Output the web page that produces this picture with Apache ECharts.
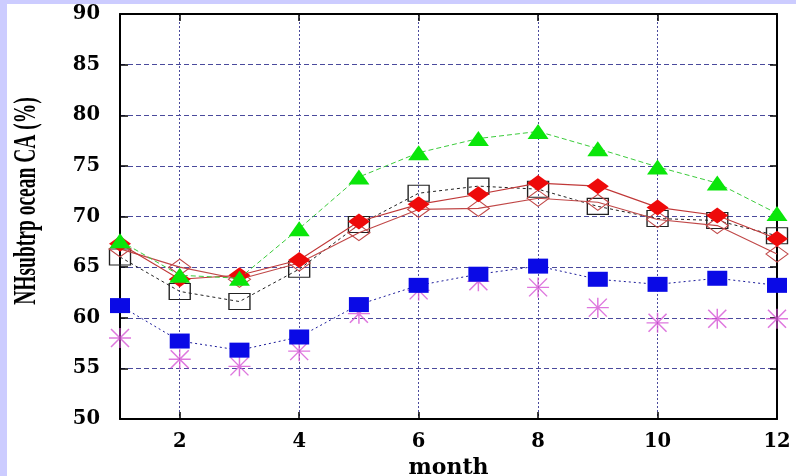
<!DOCTYPE html>
<html>
<head>
<meta charset="utf-8">
<script src="https://cdn.jsdelivr.net/npm/echarts@6/dist/echarts.min.js"></script>
<style>
  html, body { margin: 0; padding: 0; width: 796px; height: 476px; background: #ccccff; overflow: hidden; }
  #chart { position: absolute; left: 7px; top: 4px; width: 789px; height: 472px; background: #ffffff; }
</style>
</head>
<body>
<div id="chart"></div>
<script>
// Monthly NH subtropical ocean cloud amount (%), six data sets
const months = [1, 2, 3, 4, 5, 6, 7, 8, 9, 10, 11, 12];
const monthTicks = [2, 4, 6, 8, 10, 12];
const greenTriangles = [67.6, 64.2, 63.9, 68.8, 73.9, 76.3, 77.7, 78.4, 76.7, 74.9, 73.3, 70.3];
const redDiamonds = [67.3, 63.8, 64.2, 65.7, 69.5, 71.2, 72.2, 73.3, 73.0, 70.9, 70.1, 67.8];
const openDiamonds = [66.8, 65.0, 63.8, 65.4, 68.4, 70.7, 70.8, 71.8, 71.4, 69.7, 69.1, 66.3];
const openSquares = [66.0, 62.6, 61.6, 64.8, 69.2, 72.3, 73.0, 72.7, 71.0, 69.8, 69.6, 68.1];
const blueSquares = [61.2, 57.7, 56.8, 58.1, 61.3, 63.2, 64.3, 65.1, 63.8, 63.3, 63.9, 63.2];
const asterisks = [58.0, 55.9, 55.2, 56.7, 60.4, 62.7, 63.6, 63.0, 61.0, 59.5, 59.9, 59.9];

const pairs = vals => months.map((m, i) => [m, vals[i]]);

const tickFont = { fontFamily: 'DejaVu Serif', fontWeight: 'bold', fontSize: 19.5, color: '#000' };
const gridColor = '#4a4a9c';
const asteriskPath = 'path://M0 10 L22 10 M11 0 L11 20 M2 1 L20 19 M2 19 L20 1';

const chart = echarts.init(document.getElementById('chart'), null, { renderer: 'canvas' });

chart.setOption({
  animation: false,
  backgroundColor: '#ffffff',
  grid: { left: 113, top: 10, right: 19, bottom: 57, outerBoundsMode: 'none', containLabel: false },
  xAxis: [
    {
      type: 'value', position: 'bottom', min: 1, max: 12,
      name: 'month', nameLocation: 'middle', nameGap: 34,
      nameTextStyle: { fontFamily: 'DejaVu Serif', fontWeight: 'bold', fontSize: 22, color: '#000' },
      axisLine: { show: true, onZero: false, lineStyle: { color: '#000', width: 2 } },
      axisTick: { show: true, inside: true, length: 7, customValues: monthTicks, lineStyle: { color: '#000', width: 1.5 } },
      axisLabel: { ...tickFont, margin: 13, customValues: monthTicks },
      splitLine: { show: true, lineStyle: { color: gridColor, width: 1, type: [2, 2] } }
    },
    {
      type: 'value', position: 'top', min: 1, max: 12,
      axisLine: { show: true, onZero: false, lineStyle: { color: '#000', width: 2 } },
      axisTick: { show: true, inside: true, length: 7, customValues: monthTicks, lineStyle: { color: '#000', width: 1.5 } },
      axisLabel: { show: false },
      splitLine: { show: false }
    }
  ],
  yAxis: [
    {
      type: 'value', position: 'left', min: 50, max: 90, interval: 5,
      axisLine: { show: true, onZero: false, lineStyle: { color: '#000', width: 2 } },
      axisTick: { show: true, inside: true, length: 8, lineStyle: { color: '#000', width: 1.5 } },
      axisLabel: { ...tickFont, margin: 20 },
      splitLine: { show: true, lineStyle: { color: gridColor, width: 1, type: [5, 3] } }
    },
    {
      type: 'value', position: 'right', min: 50, max: 90, interval: 5,
      axisLine: { show: true, onZero: false, lineStyle: { color: '#000', width: 2 } },
      axisTick: { show: true, inside: true, length: 7, lineStyle: { color: '#000', width: 1.5 } },
      axisLabel: { show: false },
      splitLine: { show: false }
    }
  ],
  graphic: [
    {
      type: 'text', x: 20, y: 197, rotation: Math.PI / 2, scaleY: 1.6,
      style: {
        text: 'NHsubtrp ocean CA (%)',
        font: 'bold 19.5px "Liberation Serif", serif',
        fill: '#000', align: 'center', verticalAlign: 'middle'
      }
    }
  ],
  series: [
    {
      type: 'scatter', data: pairs(asterisks),
      symbol: asteriskPath, symbolSize: [22, 20],
      itemStyle: { color: 'rgba(0,0,0,0)', borderColor: '#d655d6', borderWidth: 1.4 },
      emphasis: { disabled: true }, z: 2
    },
    {
      type: 'line', data: pairs(blueSquares),
      symbol: 'rect', symbolSize: [20, 15],
      itemStyle: { color: '#0a0ae6' },
      lineStyle: { color: '#1a1a9a', width: 1, type: [2, 3] },
      emphasis: { disabled: true }, z: 3
    },
    {
      type: 'line', data: pairs(openSquares),
      symbol: 'rect', symbolSize: [21, 16],
      itemStyle: { color: 'rgba(0,0,0,0)', borderColor: '#222', borderWidth: 1.2 },
      lineStyle: { color: '#222', width: 1, type: [3, 3] },
      emphasis: { disabled: true }, z: 4
    },
    {
      type: 'line', data: pairs(openDiamonds),
      symbol: 'diamond', symbolSize: [22, 16],
      itemStyle: { color: 'rgba(0,0,0,0)', borderColor: '#c04848', borderWidth: 1.1 },
      lineStyle: { color: '#c04848', width: 1.1 },
      emphasis: { disabled: true }, z: 5
    },
    {
      type: 'line', data: pairs(redDiamonds),
      symbol: 'diamond', symbolSize: [22, 16],
      itemStyle: { color: '#ee0a0a' },
      lineStyle: { color: '#c03838', width: 1.1 },
      emphasis: { disabled: true }, z: 6
    },
    {
      type: 'line', data: pairs(greenTriangles),
      symbol: 'triangle', symbolSize: [21, 15],
      itemStyle: { color: '#0ae60a' },
      lineStyle: { color: '#3ccc3c', width: 1, type: [5, 3] },
      emphasis: { disabled: true }, z: 7
    }
  ]
});
</script>
</body>
</html>
